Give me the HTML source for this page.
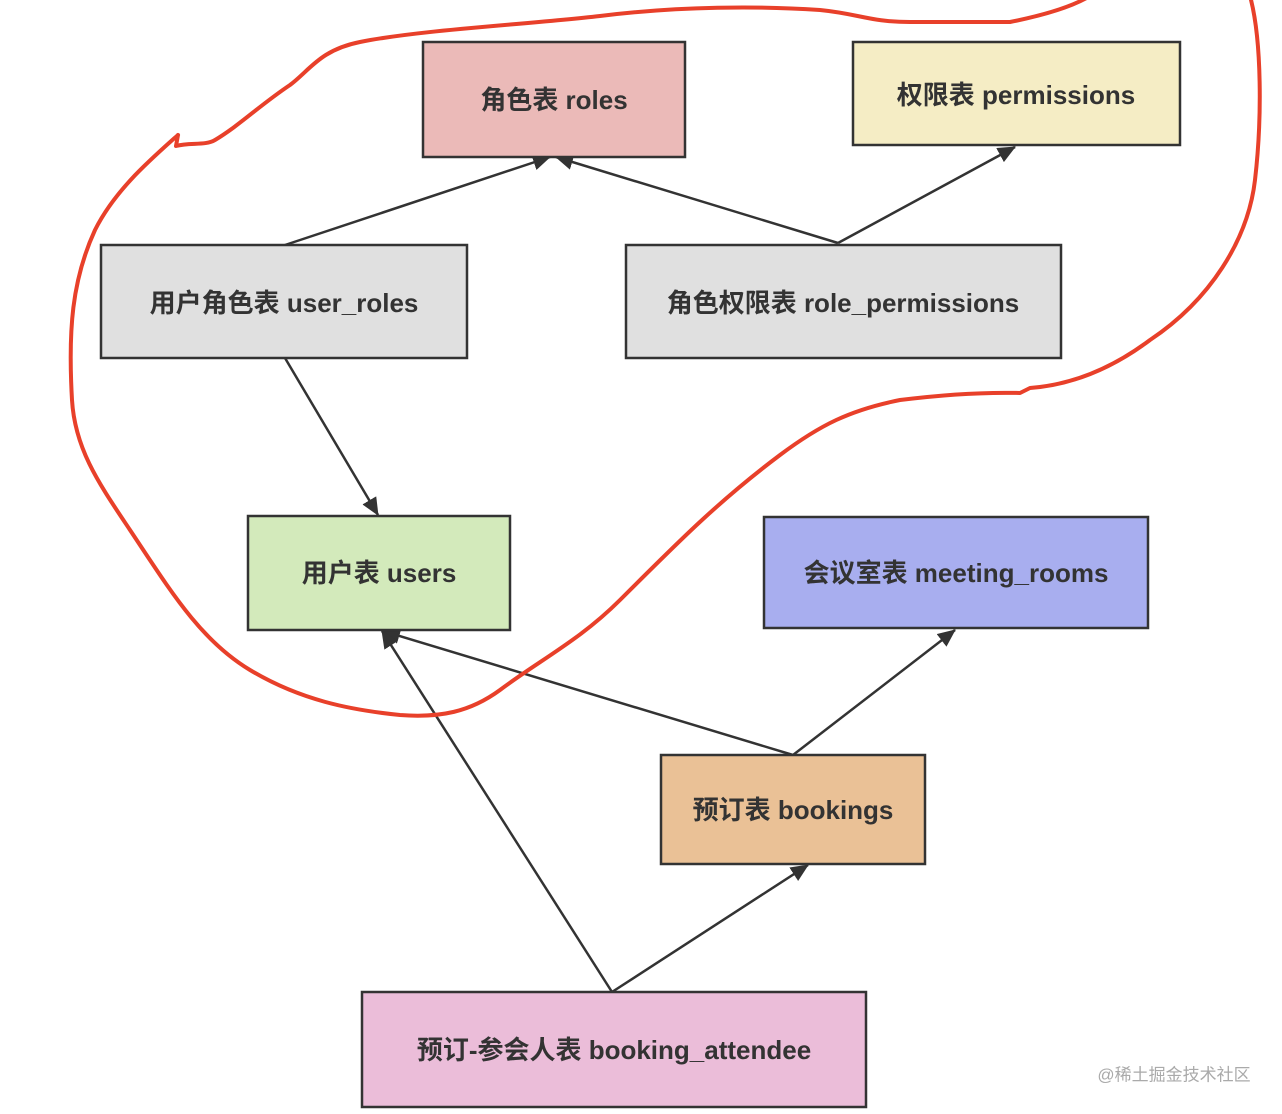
<!DOCTYPE html>
<html><head><meta charset="utf-8"><style>
html,body{margin:0;padding:0;background:#fff;}
svg{display:block;}
text{font-family:"Liberation Sans","Noto Sans CJK SC",sans-serif;font-size:26px;font-weight:bold;fill:#333;text-anchor:middle;dominant-baseline:central;}
</style></head><body>
<svg width="1282" height="1114" viewBox="0 0 1282 1114" xmlns="http://www.w3.org/2000/svg">
<defs>
<marker id="b" markerWidth="18" markerHeight="16" refX="17" refY="8" orient="auto" markerUnits="userSpaceOnUse" viewBox="0 0 18 16">
<path d="M0,0 L18,8 L0,16 z" fill="#333"/>
</marker>
</defs>
<g stroke="#333" stroke-width="2.5" fill="none">
<line x1="285" y1="245" x2="550" y2="157" marker-end="url(#b)"/>
<line x1="838" y1="243" x2="556" y2="157" marker-end="url(#b)"/>
<line x1="838" y1="243" x2="1015" y2="147" marker-end="url(#b)"/>
<line x1="285" y1="358" x2="378" y2="515" marker-end="url(#b)"/>
<line x1="793" y1="755" x2="383" y2="631" marker-end="url(#b)"/>
<line x1="793" y1="755" x2="955" y2="630" marker-end="url(#b)"/>
<line x1="612" y1="992" x2="382" y2="631" marker-end="url(#b)"/>
<line x1="612" y1="992" x2="808" y2="865" marker-end="url(#b)"/>
</g>
<g stroke="#333" stroke-width="2.5">
<rect x="423" y="42" width="262" height="115" fill="#ebbab8"/>
<rect x="853" y="42" width="327" height="103" fill="#f5edc5"/>
<rect x="101" y="245" width="366" height="113" fill="#e0e0e0"/>
<rect x="626" y="245" width="435" height="113" fill="#e0e0e0"/>
<rect x="248" y="516" width="262" height="114" fill="#d3eabb"/>
<rect x="764" y="517" width="384" height="111" fill="#a8aeef"/>
<rect x="661" y="755" width="264" height="109" fill="#eac196"/>
<rect x="362" y="992" width="504" height="115" fill="#ebbdd9"/>
</g>
<text x="554" y="100">角色表 roles</text>
<text x="1016" y="95">权限表 permissions</text>
<text x="284" y="303">用户角色表 user_roles</text>
<text x="843" y="303">角色权限表 role_permissions</text>
<text x="379" y="573">用户表 users</text>
<text x="956" y="573">会议室表 meeting_rooms</text>
<text x="793" y="810">预订表 bookings</text>
<text x="614" y="1050">预订-参会人表 booking_attendee</text>
<path d="M178,135 L176,146 C190,142 205,146 215,140 C240,125 260,105 290,85 C310,70 320,50 360,42 C420,30 520,25 600,16 C680,6 760,6 820,10 C860,14 870,22 910,22 L1010,22 C1040,16 1070,8 1090,-4
M1250,-4 C1262,40 1262,120 1255,180 C1248,240 1210,300 1150,340 C1110,370 1070,385 1030,388 L1020,393 C980,392 940,395 900,400 C850,410 820,425 780,455 C720,500 680,540 620,600 C580,640 540,660 500,690 C470,712 440,718 400,715 C350,710 300,700 250,670 C200,640 170,590 130,530 C100,485 75,450 72,400 C68,330 72,280 95,230 C115,190 150,160 178,135"
 stroke="#e8402a" stroke-width="4" fill="none" stroke-linecap="round" stroke-linejoin="round"/>
<text x="1174" y="1075" style="font-size:17px;font-weight:normal;fill:#aaa;">@稀土掘金技术社区</text>
</svg>
</body></html>
